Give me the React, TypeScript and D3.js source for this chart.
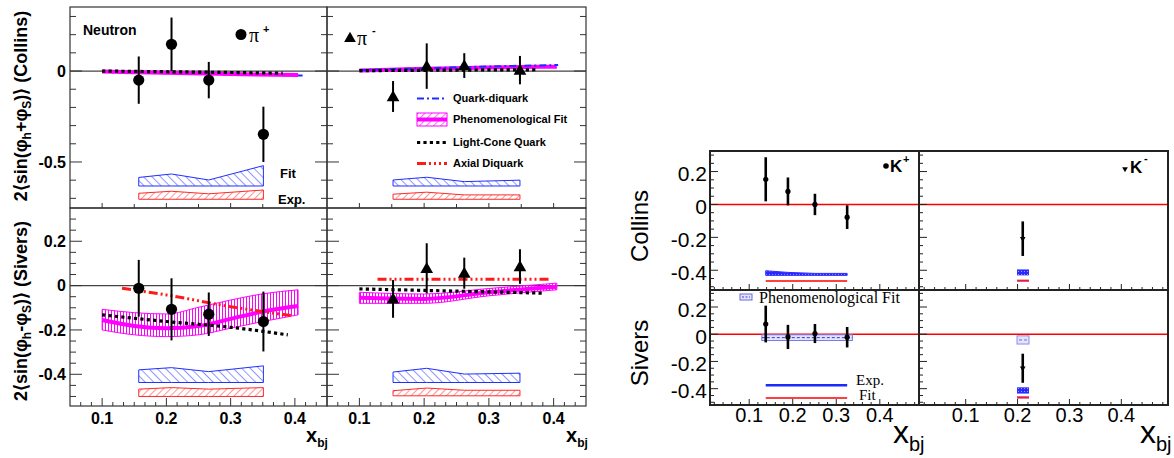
import React from "react";
import * as d3 from "d3";

// ================= DATA =================
// ---- Left figure (neutron, pi+ / pi-) ----
const piPlusX = [0.157, 0.208, 0.266, 0.351];
const piMinusX = [0.152, 0.204, 0.262, 0.348];
const collinsPiPlus = [-0.05, 0.147, -0.05, -0.348];
const collinsPiPlusErr = [0.13, 0.147, 0.1, 0.152];
const collinsPiMinus = [-0.14, 0.027, 0.03, 0.005];
const collinsPiMinusErr = [0.085, 0.125, 0.068, 0.078];
const siversPiPlus = [-0.012, -0.107, -0.129, -0.162];
const siversPiPlusErr = [0.128, 0.14, 0.098, 0.135];
const siversPiMinus = [-0.06, 0.078, 0.056, 0.086];
const siversPiMinusErr = [0.085, 0.113, 0.07, 0.078];

// systematic bands: top edge per point, constant base
const collinsPiPlusFitTop = [-0.585, -0.566, -0.599, -0.52];
const collinsPiPlusFitBase = -0.632;
const collinsPiPlusExpTop = [-0.672, -0.661, -0.675, -0.654];
const collinsPiPlusExpBase = -0.705;
const collinsPiMinusFitTop = [-0.599, -0.584, -0.608, -0.6];
const collinsPiMinusFitBase = -0.632;
const collinsPiMinusExpTop = [-0.677, -0.666, -0.681, -0.681];
const collinsPiMinusExpBase = -0.705;
const siversPiPlusFitTop = [-0.38, -0.37, -0.388, -0.362];
const siversPiPlusFitBase = -0.437;
const siversPiPlusExpTop = [-0.467, -0.46, -0.467, -0.46];
const siversPiPlusExpBase = -0.5;
const siversPiMinusFitTop = [-0.39, -0.373, -0.399, -0.395];
const siversPiMinusFitBase = -0.437;
const siversPiMinusExpTop = [-0.474, -0.462, -0.472, -0.472];
const siversPiMinusExpBase = -0.497;

// model curves [x, y]
const collinsPiPlusQD: [number, number][] = [[0.1, -0.005], [0.2, -0.012], [0.3, -0.018], [0.412, -0.025]];
const collinsPiPlusPheno: [number, number][] = [[0.1, -0.003], [0.2, -0.01], [0.3, -0.017], [0.405, -0.022]];
const collinsPiPlusLC: [number, number][] = [[0.1, 0.0], [0.2, -0.004], [0.3, -0.008], [0.381, -0.012]];
const collinsPiMinusQD: [number, number][] = [[0.1, 0.005], [0.2, 0.015], [0.3, 0.025], [0.407, 0.033]];
const collinsPiMinusPheno: [number, number][] = [[0.1, 0.003], [0.2, 0.012], [0.3, 0.02], [0.405, 0.024]];
const collinsPiMinusLC: [number, number][] = [[0.1, 0.002], [0.2, 0.004], [0.3, 0.006], [0.376, 0.007]];

const siversPiPlusPhenoX = [0.1, 0.15, 0.2, 0.25, 0.3, 0.35, 0.405];
const siversPiPlusPheno = [-0.155, -0.182, -0.192, -0.182, -0.15, -0.117, -0.092];
const siversPiPlusPhenoHi = [-0.107, -0.122, -0.128, -0.098, -0.065, -0.037, -0.019];
const siversPiPlusPhenoLo = [-0.2, -0.222, -0.23, -0.222, -0.192, -0.162, -0.132];
const siversPiPlusLC: [number, number][] = [[0.1, -0.132], [0.2, -0.162], [0.3, -0.188], [0.389, -0.222]];
const siversPiPlusAD: [number, number][] = [[0.131, -0.012], [0.2, -0.042], [0.3, -0.095], [0.398, -0.137]];

const siversPiMinusPhenoX = [0.1, 0.2, 0.3, 0.405];
const siversPiMinusPheno = [-0.055, -0.06, -0.03, -0.005];
const siversPiMinusPhenoHi = [-0.03, -0.038, -0.013, 0.011];
const siversPiMinusPhenoLo = [-0.08, -0.08, -0.046, -0.019];
const siversPiMinusLC: [number, number][] = [[0.1, -0.015], [0.25, -0.025], [0.384, -0.034]];
const siversPiMinusAD: [number, number][] = [[0.128, 0.029], [0.26, 0.029], [0.393, 0.029]];

const leftYTicksTop = [0, -0.5];
const leftYTicksBottom = [0.2, 0, -0.2, -0.4];
const xTickLabels = [0.1, 0.2, 0.3, 0.4];
const legendLabels = ["Quark-diquark", "Phenomenological Fit", "Light-Cone Quark", "Axial Diquark"];

// ---- Right figure (K+ / K-) ----
const kPlusX = [0.138, 0.189, 0.251, 0.325];
const collinsKPlus = [0.153, 0.079, 0.0, -0.077];
const collinsKPlusErr = [0.134, 0.085, 0.065, 0.072];
const siversKPlus = [0.075, -0.02, 0.005, -0.022];
const siversKPlusErr = [0.135, 0.089, 0.07, 0.075];
const kMinusX = [0.21];
const collinsKMinus = [-0.208];
const collinsKMinusErr = [0.105];
const siversKMinus = [-0.25];
const siversKMinusErr = [0.107];

const collinsKPlusBandTop = [-0.403, -0.413, -0.419, -0.419];
const collinsKPlusBandBase = -0.431;
const collinsKPlusRed = -0.465;
const siversKPlusBlue = -0.375;
const siversKPlusRed = -0.468;
const siversKPlusPhenoX = [0.129, 0.337];
const siversKPlusPhenoHi = -0.004;
const siversKPlusPhenoLo = -0.046;
const kMinusBoxX = [0.199, 0.222];
const collinsKMinusBlue = [-0.395, -0.431];
const collinsKMinusRed = [-0.457, -0.47];
const siversKMinusPheno = [-0.012, -0.072];
const siversKMinusBlue = [-0.39, -0.436];
const siversKMinusRed = [-0.456, -0.473];
const rightYTicks = [0.2, 0, -0.2, -0.4];

// ================= HELPERS =================
const SANS = "'Liberation Sans', Arial, Helvetica, sans-serif";
const SERIF = "'Liberation Serif', 'Times New Roman', serif";

type Sc = d3.ScaleLinear<number, number>;

function tickVals(domain: number[], step: number) {
  const [a, b] = [Math.min(domain[0], domain[1]), Math.max(domain[0], domain[1])];
  const out: number[] = [];
  for (let k = Math.ceil(a / step - 1e-9); k * step <= b + 1e-9; k++) out.push(k * step);
  return out;
}
const isMajor = (v: number, m: number) => Math.abs(v / m - Math.round(v / m)) < 1e-6;

function Ticks(p: {
  x: Sc; y: Sc; xMajor: number; xMinor: number; yMajor: number; yMinor: number;
  xLen: [number, number]; yLen: [number, number]; right?: boolean; color?: string; sw?: number;
}) {
  const [x0, x1] = p.x.range();
  const [y0, y1] = p.y.range();
  const col = p.color || "#222";
  const sw = p.sw || 1;
  const els: JSX.Element[] = [];
  tickVals(p.x.domain(), p.xMinor).forEach((v, i) => {
    const L = isMajor(v, p.xMajor) ? p.xLen[0] : p.xLen[1];
    const xx = p.x(v);
    if (xx <= x0 + 0.5 || xx >= x1 - 0.5) return;
    els.push(<line key={"x" + i} x1={xx} x2={xx} y1={y0} y2={y0 - L} stroke={col} strokeWidth={sw} />);
  });
  tickVals(p.y.domain(), p.yMinor).forEach((v, i) => {
    const L = isMajor(v, p.yMajor) ? p.yLen[0] : p.yLen[1];
    const yy = p.y(v);
    if (yy >= y0 - 0.5 || yy <= y1 + 0.5) return;
    els.push(<line key={"yl" + i} x1={x0} x2={x0 + L} y1={yy} y2={yy} stroke={col} strokeWidth={sw} />);
    if (p.right) els.push(<line key={"yr" + i} x1={x1} x2={x1 - L} y1={yy} y2={yy} stroke={col} strokeWidth={sw} />);
  });
  return <g>{els}</g>;
}

function Points(p: {
  xs: number[]; ys: number[]; errs: number[]; x: Sc; y: Sc;
  marker: "circle" | "tri" | "dot" | "tridown"; ew: number;
}) {
  return (
    <g>
      {p.xs.map((xv, i) => {
        const cx = p.x(xv), cy = p.y(p.ys[i]);
        let m: JSX.Element;
        if (p.marker === "circle") m = <circle cx={cx} cy={cy} r={5.6} fill="#000" />;
        else if (p.marker === "dot") m = <circle cx={cx} cy={cy} r={2.6} fill="#000" />;
        else if (p.marker === "tri")
          m = <path d={d3.symbol(d3.symbolTriangle, 70)() || ""} transform={`translate(${cx},${cy + 1})`} fill="#000" />;
        else
          m = <path d={d3.symbol(d3.symbolTriangle, 14)() || ""} transform={`translate(${cx},${cy}) rotate(180)`} fill="#000" />;
        return (
          <g key={i}>
            <line x1={cx} x2={cx} y1={p.y(p.ys[i] + p.errs[i])} y2={p.y(p.ys[i] - p.errs[i])} stroke="#000" strokeWidth={p.ew} />
            {m}
          </g>
        );
      })}
    </g>
  );
}

function SysBand(p: { xs: number[]; tops: number[]; base: number; x: Sc; y: Sc; fill: string; stroke: string }) {
  const a = d3.area<number>().x((_, i) => p.x(p.xs[i])).y0(p.y(p.base)).y1((d) => p.y(d));
  return <path d={a(p.tops) || ""} fill={p.fill} stroke={p.stroke} strokeWidth={1} />;
}

function Curve(p: { pts: [number, number][]; x: Sc; y: Sc; stroke: string; sw: number; dash?: string }) {
  const l = d3.line<[number, number]>().x((d) => p.x(d[0])).y((d) => p.y(d[1])).curve(d3.curveMonotoneX);
  return <path d={l(p.pts) || ""} fill="none" stroke={p.stroke} strokeWidth={p.sw} strokeDasharray={p.dash} />;
}

function ModelBand(p: { xs: number[]; lo: number[]; hi: number[]; x: Sc; y: Sc; fill: string; stroke: string }) {
  const a = d3.area<number>().x((_, i) => p.x(p.xs[i])).y0((_, i) => p.y(p.lo[i])).y1((d) => p.y(d)).curve(d3.curveMonotoneX);
  return <path d={a(p.hi) || ""} fill={p.fill} stroke={p.stroke} strokeWidth={1} />;
}

const zip = (xs: number[], ys: number[]) => xs.map((x, i) => [x, ys[i]] as [number, number]);

const QD_DASH = "7,3,2,3";
const LC_DASH = "3.2,3.2";
const AD_DASH = "9,3,2,3,2,3,2,3";
const MAG = "#ff00ff";

// ================= APP =================
export default function App() {
  const xL1 = d3.scaleLinear().domain([0.05, 0.45]).range([70, 327]);
  const xL2 = d3.scaleLinear().domain([0.05, 0.45]).range([327, 586]);
  const yLT = d3.scaleLinear().domain([-0.753, 0.352]).range([208, 7]);
  const yLB = d3.scaleLinear().domain([-0.543, 0.35]).range([406, 208]);
  const xR1 = d3.scaleLinear().domain([0.01, 0.49]).range([710, 919]);
  const xR2 = d3.scaleLinear().domain([0.01, 0.49]).range([919, 1168]);
  const yRT = d3.scaleLinear().domain([-0.52, 0.325]).range([290, 151]);
  const yRB = d3.scaleLinear().domain([-0.52, 0.325]).range([405, 290]);

  const leftPanels = [
    { x: xL1, y: yLT, top: true },
    { x: xL2, y: yLT, top: true },
    { x: xL1, y: yLB, top: false },
    { x: xL2, y: yLB, top: false },
  ];
  const rightPanels = [
    { x: xR1, y: yRT },
    { x: xR2, y: yRT },
    { x: xR1, y: yRB },
    { x: xR2, y: yRB },
  ];

  const legY = [98.5, 119.5, 142.5, 163.5];

  return (
    <svg width={1174} height={458} style={{ position: "absolute", left: 0, top: 0, background: "#fff" }} fontFamily={SANS}>
      <defs>
        <pattern id="hBlue" width="6" height="6" patternUnits="userSpaceOnUse" patternTransform="rotate(-45)">
          <line x1="0" y1="0" x2="0" y2="6" stroke="#1f2fff" strokeWidth="1" />
        </pattern>
        <pattern id="hRed" width="5" height="5" patternUnits="userSpaceOnUse" patternTransform="rotate(45)">
          <line x1="0" y1="0" x2="0" y2="5" stroke="#ff2a2a" strokeWidth="1" />
        </pattern>
        <pattern id="hMag" width="3" height="6" patternUnits="userSpaceOnUse">
          <line x1="0.5" y1="0" x2="0.5" y2="6" stroke={MAG} strokeWidth="1" />
        </pattern>
        <pattern id="hMagD" width="5" height="5" patternUnits="userSpaceOnUse" patternTransform="rotate(45)">
          <line x1="0" y1="0" x2="0" y2="5" stroke={MAG} strokeWidth="1.2" />
        </pattern>
        <pattern id="dBlue" width="3" height="3" patternUnits="userSpaceOnUse">
          <rect width="3" height="3" fill="#2a2aff" />
          <rect x="1" y="1" width="1" height="1" fill="#9a9aff" />
        </pattern>
      </defs>

      {/* ============ LEFT FIGURE ============ */}
      {[yLT, yLB].map((ys, i) => (
        <line key={"z" + i} x1={70} x2={586} y1={ys(0)} y2={ys(0)} stroke="#444" strokeWidth={1.2} />
      ))}

      {/* Collins pi+ (top-left) */}
      <SysBand xs={piPlusX} tops={collinsPiPlusFitTop} base={collinsPiPlusFitBase} x={xL1} y={yLT} fill="url(#hBlue)" stroke="#1f2fff" />
      <SysBand xs={piPlusX} tops={collinsPiPlusExpTop} base={collinsPiPlusExpBase} x={xL1} y={yLT} fill="url(#hRed)" stroke="#ff2a2a" />
      <Curve pts={collinsPiPlusQD} x={xL1} y={yLT} stroke="#1f2fff" sw={2} dash={QD_DASH} />
      <Curve pts={collinsPiPlusPheno} x={xL1} y={yLT} stroke={MAG} sw={4} />
      <Curve pts={collinsPiPlusLC} x={xL1} y={yLT} stroke="#000" sw={3.2} dash={LC_DASH} />
      <Points xs={piPlusX} ys={collinsPiPlus} errs={collinsPiPlusErr} x={xL1} y={yLT} marker="circle" ew={2} />

      {/* Collins pi- (top-right) */}
      <SysBand xs={piMinusX} tops={collinsPiMinusFitTop} base={collinsPiMinusFitBase} x={xL2} y={yLT} fill="url(#hBlue)" stroke="#1f2fff" />
      <SysBand xs={piMinusX} tops={collinsPiMinusExpTop} base={collinsPiMinusExpBase} x={xL2} y={yLT} fill="url(#hRed)" stroke="#ff2a2a" />
      <Curve pts={collinsPiMinusPheno} x={xL2} y={yLT} stroke={MAG} sw={4} />
      <Curve pts={collinsPiMinusQD} x={xL2} y={yLT} stroke="#1f2fff" sw={2} dash={QD_DASH} />
      <Curve pts={collinsPiMinusLC} x={xL2} y={yLT} stroke="#000" sw={3.2} dash={LC_DASH} />
      <Points xs={piMinusX} ys={collinsPiMinus} errs={collinsPiMinusErr} x={xL2} y={yLT} marker="tri" ew={2} />

      {/* Sivers pi+ (bottom-left) */}
      <SysBand xs={piPlusX} tops={siversPiPlusFitTop} base={siversPiPlusFitBase} x={xL1} y={yLB} fill="url(#hBlue)" stroke="#1f2fff" />
      <SysBand xs={piPlusX} tops={siversPiPlusExpTop} base={siversPiPlusExpBase} x={xL1} y={yLB} fill="url(#hRed)" stroke="#ff2a2a" />
      <ModelBand xs={siversPiPlusPhenoX} lo={siversPiPlusPhenoLo} hi={siversPiPlusPhenoHi} x={xL1} y={yLB} fill="url(#hMag)" stroke={MAG} />
      <Curve pts={zip(siversPiPlusPhenoX, siversPiPlusPheno)} x={xL1} y={yLB} stroke={MAG} sw={4} />
      <Curve pts={siversPiPlusLC} x={xL1} y={yLB} stroke="#000" sw={3.2} dash={LC_DASH} />
      <Curve pts={siversPiPlusAD} x={xL1} y={yLB} stroke="#ff1a1a" sw={3} dash={AD_DASH} />
      <Points xs={piPlusX} ys={siversPiPlus} errs={siversPiPlusErr} x={xL1} y={yLB} marker="circle" ew={2} />

      {/* Sivers pi- (bottom-right) */}
      <SysBand xs={piMinusX} tops={siversPiMinusFitTop} base={siversPiMinusFitBase} x={xL2} y={yLB} fill="url(#hBlue)" stroke="#1f2fff" />
      <SysBand xs={piMinusX} tops={siversPiMinusExpTop} base={siversPiMinusExpBase} x={xL2} y={yLB} fill="url(#hRed)" stroke="#ff2a2a" />
      <ModelBand xs={siversPiMinusPhenoX} lo={siversPiMinusPhenoLo} hi={siversPiMinusPhenoHi} x={xL2} y={yLB} fill="url(#hMag)" stroke={MAG} />
      <Curve pts={zip(siversPiMinusPhenoX, siversPiMinusPheno)} x={xL2} y={yLB} stroke={MAG} sw={4} />
      <Curve pts={siversPiMinusLC} x={xL2} y={yLB} stroke="#000" sw={3.2} dash={LC_DASH} />
      <Curve pts={siversPiMinusAD} x={xL2} y={yLB} stroke="#ff1a1a" sw={3} dash={AD_DASH} />
      <Points xs={piMinusX} ys={siversPiMinus} errs={siversPiMinusErr} x={xL2} y={yLB} marker="tri" ew={2} />

      {/* frames + ticks */}
      {leftPanels.map((p, i) => (
        <g key={"lp" + i}>
          <rect x={p.x.range()[0]} y={p.y.range()[1]} width={p.x.range()[1] - p.x.range()[0]} height={p.y.range()[0] - p.y.range()[1]} fill="none" stroke="#333" strokeWidth={1.2} />
          <Ticks x={p.x} y={p.y} xMajor={0.1} xMinor={p.top ? 0.05 : 0.1 / 6} yMajor={p.top ? 0.5 : 0.2} yMinor={p.top ? 0.1 : 0.05}
            xLen={p.top ? [5, 4] : [8, 4]} yLen={[12, 6]} right color="#333" />
        </g>
      ))}

      {/* left y tick labels */}
      <g fontWeight="bold" fontSize={16} textAnchor="end">
        {leftYTicksTop.map((v) => (
          <text key={"lt" + v} x={66} y={yLT(v)} dy="0.36em">{v === 0 ? "0" : String(v)}</text>
        ))}
        {leftYTicksBottom.map((v) => (
          <text key={"lb" + v} x={66} y={yLB(v)} dy="0.36em">{v === 0 ? "0" : String(v)}</text>
        ))}
      </g>
      <g fontWeight="bold" fontSize={16} textAnchor="middle">
        {[xL1, xL2].map((xs, j) =>
          xTickLabels.map((v) => (
            <text key={"lx" + j + v} x={xs(v)} y={424}>{String(v)}</text>
          ))
        )}
      </g>
      {[306, 566].map((xx, i) => (
        <text key={"xbj" + i} x={xx} y={442} fontWeight="bold" fontSize={20}>
          x<tspan fontSize={12} dy={5}>bj</tspan>
        </text>
      ))}
      <text transform="translate(27,106) rotate(-90)" textAnchor="middle" fontWeight="bold" fontSize={18}>
        2⟨sin(φ<tspan fontSize={12} dy={4}>h</tspan><tspan dy={-4}>+φ</tspan><tspan fontSize={12} dy={4}>S</tspan><tspan dy={-4}>)⟩ (Collins)</tspan>
      </text>
      <text transform="translate(27,311) rotate(-90)" textAnchor="middle" fontWeight="bold" fontSize={18}>
        2⟨sin(φ<tspan fontSize={12} dy={4}>h</tspan><tspan dy={-4}>-φ</tspan><tspan fontSize={12} dy={4}>S</tspan><tspan dy={-4}>)⟩ (Sivers)</tspan>
      </text>

      {/* annotations */}
      <text x={83} y={35} fontWeight="bold" fontSize={14}>Neutron</text>
      <circle cx={241} cy={34.5} r={5.5} fill="#000" />
      <text x={249} y={42} fontFamily={SERIF} fontSize={20}>π</text>
      <text x={263} y={33} fontWeight="bold" fontSize={11}>+</text>
      <path d={d3.symbol(d3.symbolTriangle, 60)() || ""} transform="translate(350,38.5)" fill="#000" />
      <text x={357} y={45} fontFamily={SERIF} fontSize={20}>π</text>
      <text x={372} y={34} fontWeight="bold" fontSize={11}>-</text>
      <text x={280} y={178} fontWeight="bold" fontSize={13}>Fit</text>
      <text x={278} y={204} fontWeight="bold" fontSize={13}>Exp.</text>

      {/* legend */}
      <g fontWeight="bold" fontSize={11}>
        <line x1={417} x2={447} y1={legY[0]} y2={legY[0]} stroke="#1f2fff" strokeWidth={2.2} strokeDasharray={QD_DASH} />
        <rect x={417} y={legY[1] - 6.5} width={30} height={13} fill="url(#hMagD)" stroke={MAG} strokeWidth={1} />
        <line x1={417} x2={447} y1={legY[1]} y2={legY[1]} stroke={MAG} strokeWidth={4} />
        <line x1={417} x2={447} y1={legY[2]} y2={legY[2]} stroke="#000" strokeWidth={3.2} strokeDasharray={LC_DASH} />
        <line x1={417} x2={447} y1={legY[3]} y2={legY[3]} stroke="#ff1a1a" strokeWidth={3} strokeDasharray={AD_DASH} />
        {legendLabels.map((t, i) => (
          <text key={t} x={453} y={legY[i]} dy="0.36em">{t}</text>
        ))}
      </g>

      {/* ============ RIGHT FIGURE ============ */}
      {rightPanels.map((p, i) => (
        <line key={"rz" + i} x1={p.x.range()[0]} x2={p.x.range()[1]} y1={p.y(0)} y2={p.y(0)} stroke="#ff0000" strokeWidth={1.4} />
      ))}

      {/* K+ Collins */}
      <SysBand xs={kPlusX} tops={collinsKPlusBandTop} base={collinsKPlusBandBase} x={xR1} y={yRT} fill="url(#dBlue)" stroke="#2a2aff" />
      <line x1={xR1(kPlusX[0])} x2={xR1(kPlusX[3])} y1={yRT(collinsKPlusRed)} y2={yRT(collinsKPlusRed)} stroke="#ff0000" strokeWidth={1.5} />
      <Points xs={kPlusX} ys={collinsKPlus} errs={collinsKPlusErr} x={xR1} y={yRT} marker="dot" ew={2.6} />

      {/* K- Collins */}
      <rect x={xR2(kMinusBoxX[0])} width={xR2(kMinusBoxX[1]) - xR2(kMinusBoxX[0])} y={yRT(collinsKMinusBlue[0])} height={yRT(collinsKMinusBlue[1]) - yRT(collinsKMinusBlue[0])} fill="url(#dBlue)" />
      <rect x={xR2(kMinusBoxX[0])} width={xR2(kMinusBoxX[1]) - xR2(kMinusBoxX[0])} y={yRT(collinsKMinusRed[0])} height={yRT(collinsKMinusRed[1]) - yRT(collinsKMinusRed[0])} fill="#e0204a" />
      <Points xs={kMinusX} ys={collinsKMinus} errs={collinsKMinusErr} x={xR2} y={yRT} marker="tridown" ew={2.6} />

      {/* K+ Sivers */}
      <rect x={xR1(siversKPlusPhenoX[0])} width={xR1(siversKPlusPhenoX[1]) - xR1(siversKPlusPhenoX[0])} y={yRB(siversKPlusPhenoHi)} height={yRB(siversKPlusPhenoLo) - yRB(siversKPlusPhenoHi)} fill="#e4e4ff" stroke="#7a7ae6" strokeWidth={1} />
      <line x1={xR1(siversKPlusPhenoX[0])} x2={xR1(siversKPlusPhenoX[1])} y1={yRB((siversKPlusPhenoHi + siversKPlusPhenoLo) / 2)} y2={yRB((siversKPlusPhenoHi + siversKPlusPhenoLo) / 2)} stroke="#3a3ad0" strokeWidth={1} strokeDasharray="3,2" />
      <line x1={xR1(kPlusX[0])} x2={xR1(kPlusX[3])} y1={yRB(siversKPlusBlue)} y2={yRB(siversKPlusBlue)} stroke="#1a2aff" strokeWidth={2.4} />
      <line x1={xR1(kPlusX[0])} x2={xR1(kPlusX[3])} y1={yRB(siversKPlusRed)} y2={yRB(siversKPlusRed)} stroke="#ff0000" strokeWidth={1.5} />
      <Points xs={kPlusX} ys={siversKPlus} errs={siversKPlusErr} x={xR1} y={yRB} marker="dot" ew={2.6} />

      {/* K- Sivers */}
      <rect x={xR2(kMinusBoxX[0])} width={xR2(kMinusBoxX[1]) - xR2(kMinusBoxX[0])} y={yRB(siversKMinusPheno[0])} height={yRB(siversKMinusPheno[1]) - yRB(siversKMinusPheno[0])} fill="#e4e4ff" stroke="#8a8ae6" strokeWidth={1} />
      <line x1={xR2(kMinusBoxX[0]) + 2} x2={xR2(kMinusBoxX[1]) - 2} y1={yRB((siversKMinusPheno[0] + siversKMinusPheno[1]) / 2)} y2={yRB((siversKMinusPheno[0] + siversKMinusPheno[1]) / 2)} stroke="#6a6ad8" strokeWidth={1} strokeDasharray="3,2" />
      <rect x={xR2(kMinusBoxX[0])} width={xR2(kMinusBoxX[1]) - xR2(kMinusBoxX[0])} y={yRB(siversKMinusBlue[0])} height={yRB(siversKMinusBlue[1]) - yRB(siversKMinusBlue[0])} fill="url(#dBlue)" />
      <rect x={xR2(kMinusBoxX[0])} width={xR2(kMinusBoxX[1]) - xR2(kMinusBoxX[0])} y={yRB(siversKMinusRed[0])} height={yRB(siversKMinusRed[1]) - yRB(siversKMinusRed[0])} fill="#e0204a" />
      <Points xs={kMinusX} ys={siversKMinus} errs={siversKMinusErr} x={xR2} y={yRB} marker="tridown" ew={2.6} />

      {rightPanels.map((p, i) => (
        <g key={"rp" + i}>
          <Ticks x={p.x} y={p.y} xMajor={0.1} xMinor={0.02} yMajor={0.2} yMinor={0.05} xLen={[6, 3]} yLen={[8, 4]} color="#222" />
          <rect x={p.x.range()[0]} y={p.y.range()[1]} width={p.x.range()[1] - p.x.range()[0]} height={p.y.range()[0] - p.y.range()[1]} fill="none" stroke="#222" strokeWidth={2} />
        </g>
      ))}

      <g fontSize={21} textAnchor="end">
        {[yRT, yRB].map((ys, j) =>
          rightYTicks.map((v) => (
            <text key={"ry" + j + v} x={707} y={ys(v) + 2} dy="0.36em">{v === 0 ? "0" : String(v)}</text>
          ))
        )}
      </g>
      <g fontSize={20} textAnchor="middle">
        {[xR1, xR2].map((xs, j) =>
          xTickLabels.map((v) => (
            <text key={"rx" + j + v} x={xs(v)} y={422}>{String(v)}</text>
          ))
        )}
      </g>
      <text transform="translate(648,226) rotate(-90)" textAnchor="middle" fontSize={24}>Collins</text>
      <text transform="translate(648,353) rotate(-90)" textAnchor="middle" fontSize={24}>Sivers</text>
      {[893, 1140].map((xx, i) => (
        <text key={"rxbj" + i} x={xx} y={443} fontSize={32}>
          x<tspan fontSize={20} dy={8}>bj</tspan>
        </text>
      ))}

      <circle cx={886} cy={166} r={2.8} fill="#000" />
      <text x={890} y={172} fontWeight="bold" fontSize={17}>K</text>
      <text x={903} y={163} fontWeight="bold" fontSize={11}>+</text>
      <path d={d3.symbol(d3.symbolTriangle, 14)() || ""} transform="translate(1125,169) rotate(180)" fill="#000" />
      <text x={1130} y={172.5} fontWeight="bold" fontSize={17}>K</text>
      <text x={1144} y={162} fontWeight="bold" fontSize={11}>-</text>

      <rect x={740} y={294} width={12} height={6} fill="#e4e4ff" stroke="#6a6ad8" strokeWidth={1} />
      <line x1={742} x2={750} y1={297} y2={297} stroke="#3a3ad0" strokeWidth={1} strokeDasharray="2,1.5" />
      <text x={759} y={302.5} fontFamily={SERIF} fontSize={16}>Phenomenological Fit</text>
      <text x={856} y={385} fontFamily={SERIF} fontSize={15}>Exp.</text>
      <text x={859} y={400} fontFamily={SERIF} fontSize={15}>Fit</text>
    </svg>
  );
}
